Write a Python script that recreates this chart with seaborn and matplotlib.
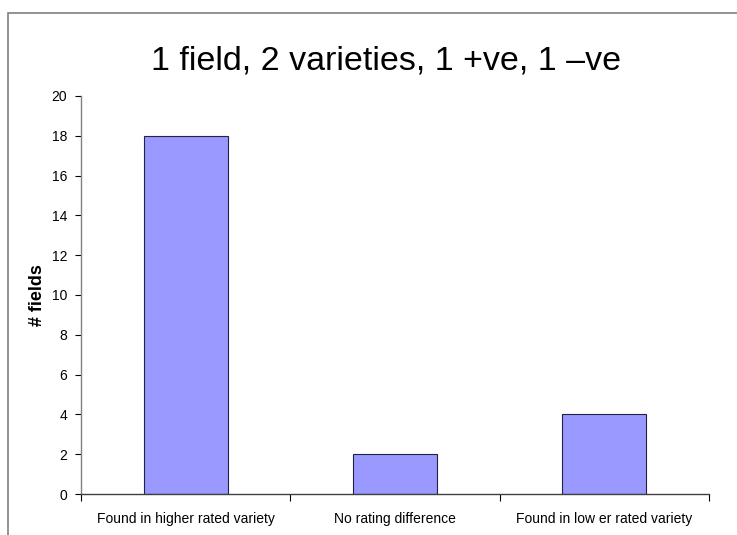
import matplotlib
matplotlib.use("Agg")
import matplotlib.pyplot as plt
import matplotlib.patches as mpatches
import seaborn as sns
import pandas as pd

categories = ["Found in higher rated variety", "No rating difference", "Found in low er rated variety"]
counts = [18, 2, 4]
y_ticks = [0, 2, 4, 6, 8, 10, 12, 14, 16, 18, 20]

sns.set_style("white")
plt.rcParams["font.family"] = ["Liberation Sans", "DejaVu Sans"]
plt.rcParams["text.color"] = "black"
plt.rcParams["axes.labelcolor"] = "black"
plt.rcParams["xtick.color"] = "black"
plt.rcParams["ytick.color"] = "black"

df = pd.DataFrame({"cat": categories, "n": counts})

fig = plt.figure(figsize=(7.37, 5.35), dpi=100)
ax = fig.add_axes([81 / 737, 1 - 494 / 535, 628 / 737, 398 / 535])

sns.barplot(data=df, x="cat", y="n", ax=ax, width=0.4, color="#9999FF",
            saturation=1, edgecolor="#222244", linewidth=0.8)

ax.set_xlim(-0.5, 2.5)
ax.set_ylim(0, 20)
ax.set_yticks(y_ticks)
ax.tick_params(axis="y", direction="out", length=4, width=0.8,
               labelsize=10, pad=6, left=True)

# category boundary ticks + labels on minor ticks
ax.set_xticks([-0.5, 0.5, 1.5, 2.5])
ax.set_xticklabels([])
ax.set_xticks([0, 1, 2], minor=True)
ax.set_xticklabels(categories, minor=True)
ax.tick_params(axis="x", which="major", direction="out", length=5, width=0.8,
               bottom=True)
ax.tick_params(axis="x", which="minor", length=0, labelsize=10, pad=13)

ax.set_xlabel("")
ax.set_ylabel("# fields", fontsize=13, fontweight="bold")
ax.yaxis.set_label_coords(-35 / 628, 0.5)

for s in ["top", "right"]:
    ax.spines[s].set_visible(False)
ax.spines["left"].set_color("#808080")
ax.spines["bottom"].set_color("#404040")
ax.spines["left"].set_linewidth(1)
ax.spines["bottom"].set_linewidth(1)

fig.text(386 / 737, 1 - 61 / 535, "1 field, 2 varieties, 1 +ve, 1 –ve",
         ha="center", va="center", fontsize=24.5)

# outer chart frame (cut off at right and bottom)
fig.patches.append(mpatches.Rectangle((7.5 / 737, -0.2), 1.2, 1.2 - 12.5 / 535,
                                      transform=fig.transFigure, fill=False,
                                      edgecolor="#808080", linewidth=1.2,
                                      clip_on=False))

fig.savefig("out.png", dpi=100)
